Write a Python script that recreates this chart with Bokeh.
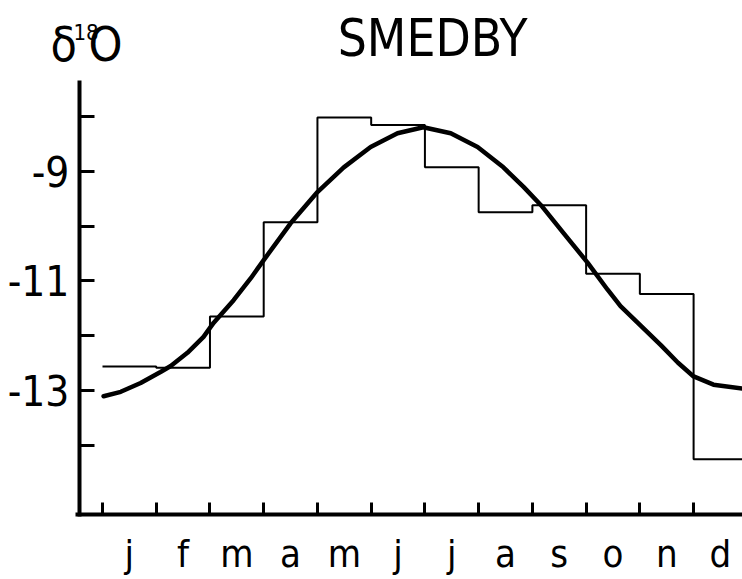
from bokeh.plotting import figure
from bokeh.models import FixedTicker, Label, Range1d
from bokeh.embed import file_html
from bokeh.resources import INLINE

# ---- data ----
months = ["j", "f", "m", "a", "m", "j", "j", "a", "s", "o", "n", "d"]
monthly_d18o = [-12.56, -12.58, -11.65, -9.93, -8.02, -8.16,
                -8.93, -9.75, -9.62, -10.87, -11.24, -14.25]

# fitted curve (x in months from start of January)
curve_month = [0.02, 0.34, 0.71, 1.08, 1.27, 1.58, 1.88, 2.07, 2.44, 2.76,
               3.00, 3.50, 4.00, 4.49, 4.99, 5.49, 5.97, 6.48, 6.98, 7.46,
               7.84, 8.16, 8.58, 9.03, 9.40, 9.64, 10.02, 10.39, 10.71,
               11.00, 11.37, 11.91]
curve_d18o = [-13.10, -13.02, -12.86, -12.66, -12.55, -12.31, -12.02, -11.76,
              -11.35, -10.95, -10.62, -9.95, -9.38, -8.93, -8.56, -8.31,
              -8.20, -8.31, -8.56, -8.93, -9.29, -9.62, -10.13, -10.67,
              -11.16, -11.46, -11.82, -12.17, -12.49, -12.74, -12.89, -12.96]

y_major = [-13, -11, -9]
y_minor = [-14, -12, -10, -8]
title_text = "SMEDBY"
ylabel_main = ["δ", "O"]
ylabel_sup = "18"

FONT = "DejaVu Sans Condensed"

# axes extents (data units)
X_AXIS_AT = -15.25   # value where the month axis sits
Y_AXIS_AT = -0.43    # month where the δ18O axis sits
Y_TOP = -7.35
X_END = 11.91

p = figure(width=742, height=579, output_backend="svg", toolbar_location=None,
           x_range=Range1d(-1.898, X_END), y_range=Range1d(-16.44, -5.89),
           min_border=0)
p.outline_line_color = None
p.xgrid.visible = False
p.ygrid.visible = False
p.background_fill_color = "white"
p.border_fill_color = "white"

# monthly step series
step_x = list(range(len(monthly_d18o) + 1))
step_y = monthly_d18o + [monthly_d18o[-1]]
p.step(step_x, step_y, mode="after", line_color="black", line_width=2)

# fitted sinusoid
p.line(curve_month, curve_d18o, line_color="black", line_width=4.5,
       line_cap="round", line_join="round")

# y axis
ya = p.yaxis[0]
ya.fixed_location = Y_AXIS_AT
ya.bounds = (X_AXIS_AT - 0.04, Y_TOP)
ya.ticker = FixedTicker(ticks=y_major, minor_ticks=y_minor)
ya.major_label_overrides = {v: str(v) for v in y_major}
ya.axis_line_width = 4
ya.axis_line_color = "black"
ya.major_tick_in = 15
ya.major_tick_out = 0
ya.minor_tick_in = 15
ya.minor_tick_out = 0
ya.major_tick_line_width = 3
ya.minor_tick_line_width = 3
ya.major_tick_line_color = "black"
ya.minor_tick_line_color = "black"
ya.major_label_text_font = FONT
ya.major_label_text_font_size = "42px"
ya.major_label_text_color = "black"
ya.major_label_standoff = 10

# x axis: ticks at month boundaries, labels at month centres
xa = p.xaxis[0]
xa.fixed_location = X_AXIS_AT
xa.bounds = (Y_AXIS_AT - 0.07, X_END)
centres = [i + 0.5 for i in range(len(months))]
bounds = list(range(len(months)))
xa.ticker = FixedTicker(ticks=centres, minor_ticks=bounds)
xa.major_label_overrides = {c: m for c, m in zip(centres, months)}
xa.axis_line_width = 4
xa.axis_line_color = "black"
xa.major_tick_line_color = None
xa.minor_tick_in = 12
xa.minor_tick_out = 0
xa.minor_tick_line_width = 3
xa.minor_tick_line_color = "black"
xa.major_label_text_font = FONT
xa.major_label_text_font_size = "38px"
xa.major_label_text_color = "black"
xa.major_label_standoff = 12

# title
p.add_layout(Label(x=6.142, y=-6.58, text=title_text, text_font=FONT,
                   text_font_size="51px", text_align="center",
                   text_baseline="alphabetic", text_color="black"))

# δ18O label
p.add_layout(Label(x=-0.968, y=-6.69, text=ylabel_main[0], text_font=FONT,
                   text_font_size="48px", text_align="left",
                   text_baseline="alphabetic", text_color="black"))
p.add_layout(Label(x=-0.540, y=-6.46, text=ylabel_sup, text_font=FONT,
                   text_font_size="22px", text_align="left",
                   text_baseline="alphabetic", text_color="black"))
p.add_layout(Label(x=-0.261, y=-6.69, text=ylabel_main[1], text_font=FONT,
                   text_font_size="48px", text_align="left",
                   text_baseline="alphabetic", text_color="black"))

open("out.html", "w").write(file_html(p, INLINE))
